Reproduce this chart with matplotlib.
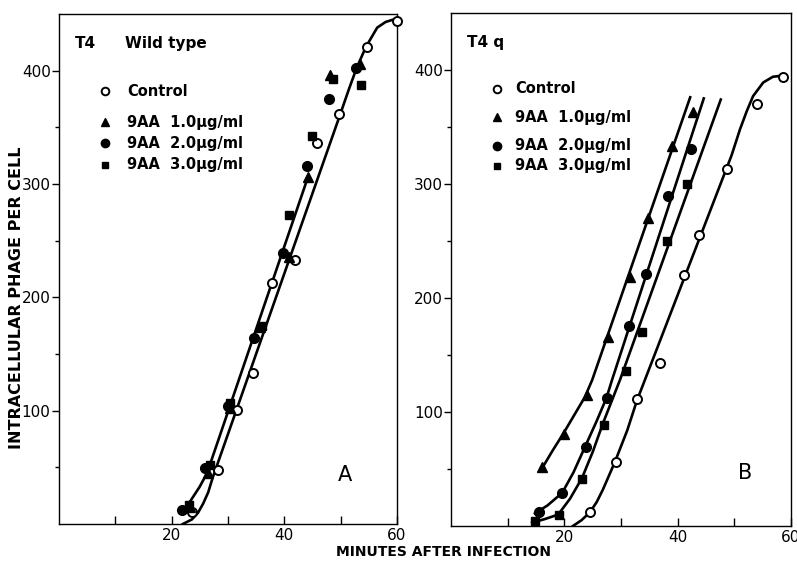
import matplotlib
matplotlib.use('Agg')
import matplotlib.pyplot as plt

# ---- data (minutes, phage per cell) ----
# panel A: T4 wild type
a_ctrl_x = [23.6, 28.3, 31.6, 34.5, 37.8, 41.9, 45.8, 49.7, 54.7, 60.0]
a_ctrl_y = [11, 48, 101, 133, 213, 233, 336, 362, 421, 444]
a_tri_x = [23.3, 26.5, 30.4, 35.7, 40.8, 44.2, 48.2, 53.4]
a_tri_y = [15, 45, 102, 174, 236, 306, 396, 406]
a_circ_x = [21.8, 25.9, 30.0, 34.6, 39.8, 44.0, 47.9, 52.7]
a_circ_y = [12, 49, 104, 164, 239, 316, 375, 402]
a_sq_x = [23.0, 26.8, 30.4, 36.0, 40.8, 44.9, 48.7, 53.6]
a_sq_y = [17, 52, 107, 175, 273, 342, 393, 387]

# hand-drawn fit curves, panel A
a_fit_drug_x = [21.8, 23.3, 25.0, 26.3, 44.2]
a_fit_drug_y = [11, 20, 33, 45, 306]
a_fit_ctrl_x = [22.0, 23.6, 24.7, 25.6, 26.5, 27.3, 49.9, 51.5, 52.9, 54.5, 56.5, 58.0, 59.3, 60.0]
a_fit_ctrl_y = [0, 4, 10, 18, 28, 41, 361, 384, 403, 421, 438, 443, 445, 446]

# panel B: T4 q
b_ctrl_x = [24.5, 29.1, 32.8, 36.9, 41.1, 43.8, 48.7, 54.0, 58.6]
b_ctrl_y = [12, 56, 111, 143, 220, 255, 313, 370, 394]
b_tri_x = [16.1, 19.9, 24.0, 27.7, 31.6, 34.8, 39.0, 42.7]
b_tri_y = [52, 81, 115, 166, 218, 270, 333, 363]
b_circ_x = [15.5, 19.6, 23.8, 27.5, 31.4, 34.4, 38.3, 42.4]
b_circ_y = [12, 29, 69, 112, 175, 221, 289, 331]
b_sq_x = [14.8, 19.1, 23.1, 27.0, 30.9, 33.7, 38.1, 41.6]
b_sq_y = [4, 10, 41, 89, 136, 170, 250, 300]

# hand-drawn fit curves, panel B
b_fit_tri_x = [16.1, 17.9, 19.8, 21.7, 23.6, 24.9, 42.2]
b_fit_tri_y = [51, 66, 81, 97, 113, 128, 376]
b_fit_circ_x = [14.8, 17.0, 19.6, 21.6, 23.6, 25.6, 27.4, 28.4, 44.6]
b_fit_circ_y = [11, 18, 29, 47, 69, 91, 112, 128, 375]
b_fit_sq_x = [14.3, 16.5, 18.9, 21.0, 23.1, 25.0, 26.8, 29.8, 47.6]
b_fit_sq_y = [3, 6, 10, 24, 42, 65, 90, 128, 374]
b_fit_ctrl_x = [21.5, 23.0, 24.5, 25.7, 26.8, 28.9, 31.1, 32.8, 34.2, 49.5, 51.0, 52.2, 53.3, 55.1, 56.8, 58.6]
b_fit_ctrl_y = [0, 5, 12, 21, 32, 56, 84, 110, 128, 325, 348, 364, 377, 389, 394, 395]

legend_labels = ['Control', '9AA  1.0\u00b5g/ml', '9AA  2.0\u00b5g/ml', '9AA  3.0\u00b5g/ml']
x_ticks = [10, 20, 30, 40, 50, 60]
x_ticklabels = ['', '20', '', '40', '', '60']
y_ticks = [100, 200, 300, 400]
y_minor = [50, 150, 250, 350]

plt.rcParams['font.family'] = ['DejaVu Sans']

fig = plt.figure(figsize=(7.97, 5.61), dpi=100)
axA = fig.add_axes([0.074, 0.066, 0.424, 0.909])
axB = fig.add_axes([0.566, 0.0624, 0.4265, 0.9146])

styles = [
    dict(marker='o', mfc='white', mec='black', mew=1.4, ms=6.5),
    dict(marker='^', mfc='black', mec='black', ms=6.5),
    dict(marker='o', mfc='black', mec='black', ms=7),
    dict(marker='s', mfc='black', mec='black', ms=6),
]


def draw_points(ax, xs, ys, st):
    ax.plot(xs, ys, ls='none', clip_on=False, zorder=3, **st)


# panel A
axA.plot(a_fit_drug_x, a_fit_drug_y, color='black', lw=1.9)
axA.plot(a_fit_ctrl_x, a_fit_ctrl_y, color='black', lw=1.9)
for (xs, ys), st in zip([(a_ctrl_x, a_ctrl_y), (a_tri_x, a_tri_y),
                         (a_circ_x, a_circ_y), (a_sq_x, a_sq_y)], styles):
    draw_points(axA, xs, ys, st)

# panel B
for fx, fy in [(b_fit_tri_x, b_fit_tri_y), (b_fit_circ_x, b_fit_circ_y),
               (b_fit_sq_x, b_fit_sq_y), (b_fit_ctrl_x, b_fit_ctrl_y)]:
    axB.plot(fx, fy, color='black', lw=1.9)
for (xs, ys), st in zip([(b_ctrl_x, b_ctrl_y), (b_tri_x, b_tri_y),
                         (b_circ_x, b_circ_y), (b_sq_x, b_sq_y)], styles):
    draw_points(axB, xs, ys, st)

for ax in (axA, axB):
    ax.set_xlim(0, 60)
    ax.set_ylim(0, 450)
    ax.set_xticks(x_ticks)
    ax.set_xticklabels(x_ticklabels)
    ax.set_yticks(y_ticks)
    ax.set_yticks(y_minor, minor=True)
    ax.tick_params(axis='x', direction='in', length=6, width=1, labelsize=11, pad=3)
    ax.tick_params(axis='y', which='major', direction='out', length=5, width=1, labelsize=11, pad=1)
    ax.tick_params(axis='y', which='minor', direction='out', length=3, width=1)
    for sp in ax.spines.values():
        sp.set_linewidth(1.0)

# legends
rowsA = [0.849, 0.788, 0.747, 0.704]
rowsB = [0.852, 0.797, 0.741, 0.702]
for ax, rows, mx, tx in [(axA, rowsA, 0.136, 0.201), (axB, rowsB, 0.135, 0.188)]:
    for y, lab, st in zip(rows, legend_labels, styles):
        s = dict(st)
        s['ms'] = s['ms'] - 1
        ax.plot([mx], [y], transform=ax.transAxes, ls='none', **s)
        ax.text(tx, y, lab, transform=ax.transAxes, fontsize=10.5,
                fontweight='bold', va='center', ha='left')

axA.text(0.047, 0.943, 'T4', transform=axA.transAxes, fontsize=11,
         fontweight='bold', va='center')
axA.text(0.195, 0.943, 'Wild type', transform=axA.transAxes, fontsize=11,
         fontweight='bold', va='center')
axB.text(0.047, 0.942, 'T4 q', transform=axB.transAxes, fontsize=11,
         fontweight='bold', va='center')
axA.text(0.846, 0.096, 'A', transform=axA.transAxes, fontsize=15, va='center', ha='center')
axB.text(0.865, 0.103, 'B', transform=axB.transAxes, fontsize=15, va='center', ha='center')

fig.text(0.557, 0.016, 'MINUTES AFTER INFECTION', fontsize=10, fontweight='bold',
         ha='center', va='center')
fig.text(0.021, 0.47, 'INTRACELLULAR PHAGE PER CELL', fontsize=11.5, fontweight='bold',
         rotation=90, ha='center', va='center')

fig.savefig('out.png', dpi=100)
